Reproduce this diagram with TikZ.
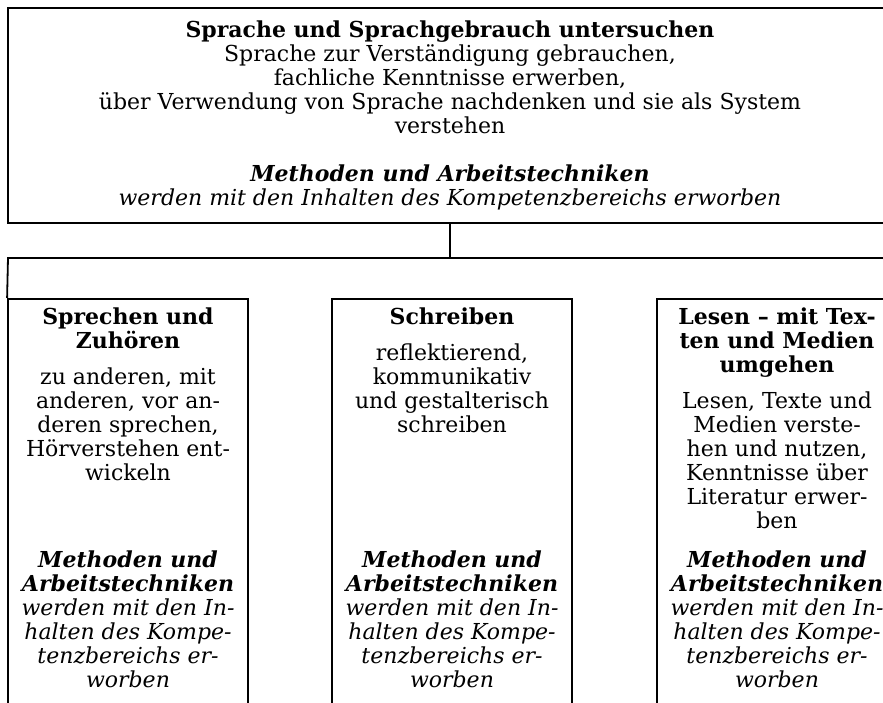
\documentclass[tikz,border=0pt]{standalone}
\usepackage{fontspec}
\setmainfont{DejaVu Serif}
\usepackage{tikz}
\usetikzlibrary{positioning}
\tikzset{
  frame/.style={draw, line width=1.8pt},
  topbox/.style={frame, minimum width=884pt, minimum height=215pt, inner sep=0pt, align=center},
  colbox/.style={frame, minimum width=240pt, minimum height=440pt, anchor=north},
  coltext/.style={align=center, anchor=north, inner sep=0pt},
}
\newcommand\hd[1]{{\bfseries #1}}
\newcommand\mt[1]{{\bfseries\itshape #1}}
\newcommand\wt[1]{{\itshape #1}}

\begin{document}
\begin{tikzpicture}[x=1pt, y=-1pt]
  \fontsize{22}{24}\selectfont
  \useasboundingbox (0,0) rectangle (883,702);
  \clip (0,0) rectangle (883,702);

  \newcommand\Row{298}
  \newcommand\Bar{258}

  \node[topbox] (sprache) at (450,115.5) {\hd{Sprache und Sprachgebrauch untersuchen}\\
    Sprache zur Verständigung gebrauchen,\\
    fachliche Kenntnisse erwerben,\\
    über Verwendung von Sprache nachdenken und sie als System\\
    verstehen\\[24pt]
    \mt{Methoden und Arbeitstechniken}\\
    \wt{werden mit den Inhalten des Kompetenzbereichs erworben}};

  \node[colbox] (sprechen)  at (128,\Row) {};
  \node[colbox] (schreiben) at (452,\Row) {};
  \node[colbox] (lesen)     at (777,\Row) {};

  \coordinate (barL) at (8,\Bar);
  \coordinate (barR) at (900,\Bar);
  \draw[frame] (sprechen.north west) -- (barL) -- (barR);
  \draw[frame] (sprache.south) -- (sprache.south |- barL);

  % Kopf und Beschreibung
  \node[coltext, below=10pt of sprechen.north] (sprechenhead) {\hd{Sprechen und}\\
    \hd{Zuhören}\\[12pt]
    zu anderen, mit\\anderen, vor an-\\deren sprechen,\\Hörverstehen ent-\\wickeln};
  \node[coltext, below=10pt of schreiben.north] (schreibenhead) {\hd{Schreiben}\\[12pt]
    reflektierend,\\kommunikativ\\und gestalterisch\\schreiben};
  \node[coltext, below=10pt of lesen.north] (lesenhead) {\hd{Lesen – mit Tex-}\\
    \hd{ten und Medien}\\\hd{umgehen}\\[12pt]
    Lesen, Texte und\\Medien verste-\\hen und nutzen,\\Kenntnisse über\\Literatur erwer-\\ben};

  % Methoden
  \node[coltext, below=253pt of sprechen.north] (sprechenmeth) {\mt{Methoden und}\\
    \mt{Arbeitstechniken}\\\wt{werden mit den In-}\\\wt{halten des Kompe-}\\
    \wt{tenzbereichs er-}\\\wt{worben}};
  \node[coltext, below=253pt of schreiben.north] (schreibenmeth) {\mt{Methoden und}\\
    \mt{Arbeitstechniken}\\\wt{werden mit den In-}\\\wt{halten des Kompe-}\\
    \wt{tenzbereichs er-}\\\wt{worben}};
  \node[coltext, below=253pt of lesen.north] (lesenmeth) {\mt{Methoden und}\\
    \mt{Arbeitstechniken}\\\wt{werden mit den In-}\\\wt{halten des Kompe-}\\
    \wt{tenzbereichs er-}\\\wt{worben}};
\end{tikzpicture}
\end{document}
